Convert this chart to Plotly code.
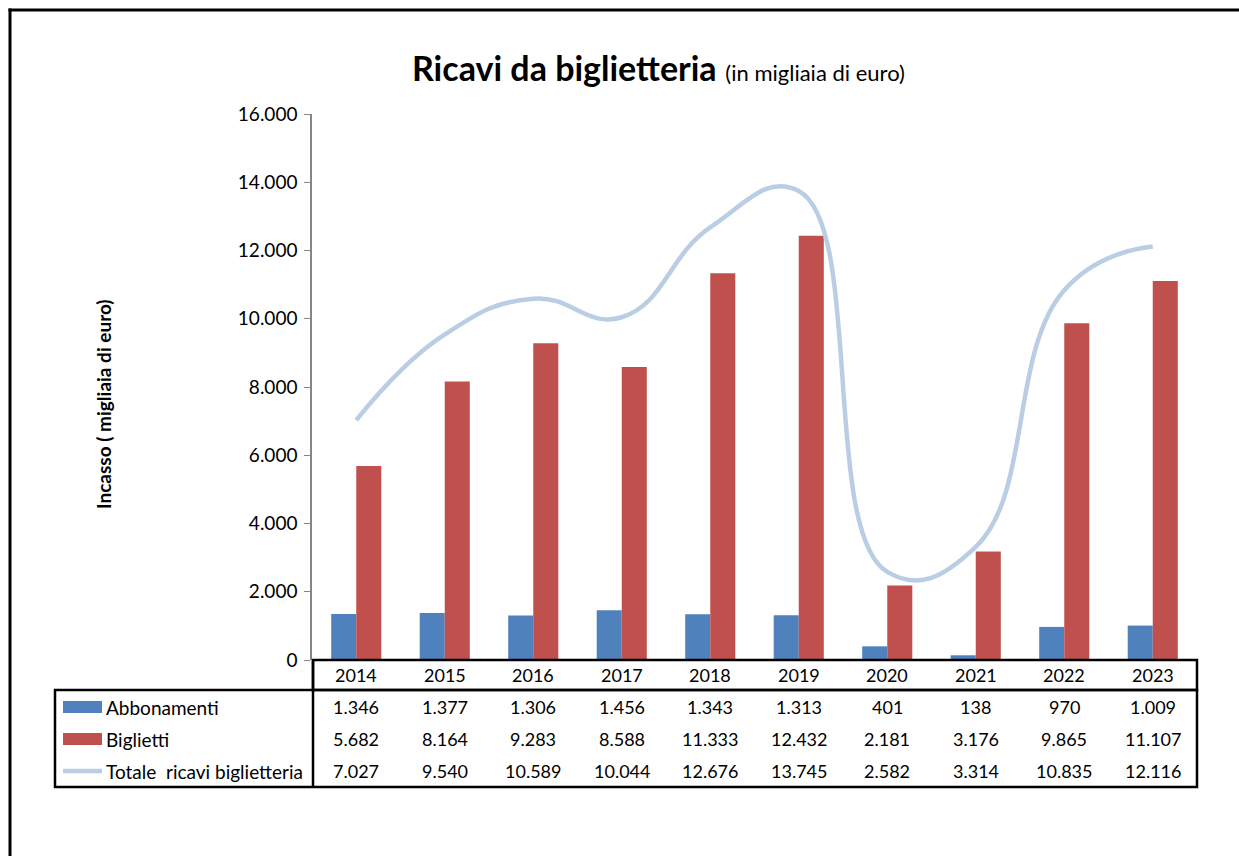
import plotly.graph_objects as go

years = [2014, 2015, 2016, 2017, 2018, 2019, 2020, 2021, 2022, 2023]
abbonamenti = [1346, 1377, 1306, 1456, 1343, 1313, 401, 138, 970, 1009]
biglietti = [5682, 8164, 9283, 8588, 11333, 12432, 2181, 3176, 9865, 11107]
totale = [7027, 9540, 10589, 10044, 12676, 13745, 2582, 3314, 10835, 12116]
series_names = ["Abbonamenti", "Biglietti", "Totale  ricavi biglietteria"]

W, H = 1239, 856
FONT = "Lato"
BLUE = "#4F81BD"
RED = "#C0504D"
LIGHT = "#B9CDE5"


def px(x):
    return x / W


def py(y):
    return 1 - y / H


def fmt(v):
    return f"{v:,}".replace(",", ".")


fig = go.Figure()
fig.add_trace(go.Bar(x=years, y=abbonamenti, name=series_names[0], marker=dict(color=BLUE, line=dict(width=0))))
fig.add_trace(go.Bar(x=years, y=biglietti, name=series_names[1], marker=dict(color=RED, line=dict(width=0))))
fig.add_trace(go.Scatter(x=years, y=totale, name=series_names[2], mode="lines",
                         line=dict(color=LIGHT, width=4.5, shape="spline", smoothing=1.3)))

shapes = []
# outer border (only left & top edges visible)
shapes.append(dict(type="line", xref="paper", yref="paper", x0=px(10), x1=px(10), y0=0, y1=py(8.5),
                   line=dict(color="black", width=3)))
shapes.append(dict(type="line", xref="paper", yref="paper", x0=px(8.5), x1=1, y0=py(10), y1=py(10),
                   line=dict(color="black", width=3)))
# table: header row
shapes.append(dict(type="rect", xref="paper", yref="paper", x0=px(313), x1=px(1197), y0=py(690), y1=py(660),
                   line=dict(color="black", width=2.5)))
# table body
shapes.append(dict(type="rect", xref="paper", yref="paper", x0=px(55), x1=px(1197), y0=py(787), y1=py(690),
                   line=dict(color="black", width=2.5)))
shapes.append(dict(type="line", xref="paper", yref="paper", x0=px(313), x1=px(313), y0=py(787), y1=py(660),
                   line=dict(color="black", width=2.5)))
# legend keys
row_y = [707, 739, 771]
shapes.append(dict(type="rect", xref="paper", yref="paper", x0=px(63), x1=px(102), y0=py(row_y[0] + 6), y1=py(row_y[0] - 6),
                   fillcolor=BLUE, line=dict(width=0)))
shapes.append(dict(type="rect", xref="paper", yref="paper", x0=px(63), x1=px(102), y0=py(row_y[1] + 6), y1=py(row_y[1] - 6),
                   fillcolor=RED, line=dict(width=0)))
shapes.append(dict(type="line", xref="paper", yref="paper", x0=px(63), x1=px(102), y0=py(row_y[2]), y1=py(row_y[2]),
                   line=dict(color=LIGHT, width=4.5)))

annotations = []
annotations.append(dict(xref="paper", yref="paper", x=px(658), y=py(68), showarrow=False, xanchor="center", yanchor="middle",
                        text="<b>Ricavi da biglietteria</b> <span style='font-size:22px'>(in migliaia di euro)</span>",
                        font=dict(family=FONT, size=34, color="black")))
annotations.append(dict(xref="paper", yref="paper", x=px(103), y=py(404), showarrow=False, textangle=-90,
                        xanchor="center", yanchor="middle", text="<b>Incasso ( migliaia di euro)</b>",
                        font=dict(family=FONT, size=19, color="black")))
for yr in years:
    annotations.append(dict(xref="x", yref="paper", x=yr, y=py(675), showarrow=False, text=str(yr),
                            xanchor="center", yanchor="middle",
                            font=dict(family=FONT, size=18, color="black")))
for vals, ry in zip([abbonamenti, biglietti, totale], row_y):
    for yr, v in zip(years, vals):
        annotations.append(dict(xref="x", yref="paper", x=yr, y=py(ry), showarrow=False, text=fmt(v),
                                xanchor="center", yanchor="middle",
                                font=dict(family=FONT, size=18, color="black")))
for name, ry in zip(series_names, row_y):
    annotations.append(dict(xref="paper", yref="paper", x=px(104), y=py(ry), showarrow=False, xanchor="left",
                            yanchor="middle",
                            text=name.replace("  ", "&nbsp; "), font=dict(family=FONT, size=19, color="black")))

fig.update_layout(
    width=W, height=H, autosize=False,
    margin=dict(l=0, r=0, t=0, b=0, pad=0),
    paper_bgcolor="white", plot_bgcolor="white",
    separators=",.",
    barmode="group", bargap=0.434, bargroupgap=0,
    showlegend=False,
    font=dict(family=FONT, color="black"),
    shapes=shapes, annotations=annotations,
    xaxis=dict(domain=[px(312), px(1197)], range=[2013.5, 2023.5], showticklabels=False, showgrid=False,
               zeroline=False, showline=False, ticks="", automargin=False),
    yaxis=dict(domain=[py(660), py(114)], range=[0, 16000], dtick=2000, tickformat=",d", showgrid=False,
               zeroline=False, showline=True, linecolor="#868686", linewidth=1.5, ticks="outside", ticklen=6,
               tickcolor="#868686", tickfont=dict(family=FONT, size=19, color="black"), ticklabelstandoff=3,
               automargin=False),
)

fig.write_html("out.html", config={"displayModeBar": False},
               post_script="document.body.style.margin='0';document.body.style.overflow='hidden';")
